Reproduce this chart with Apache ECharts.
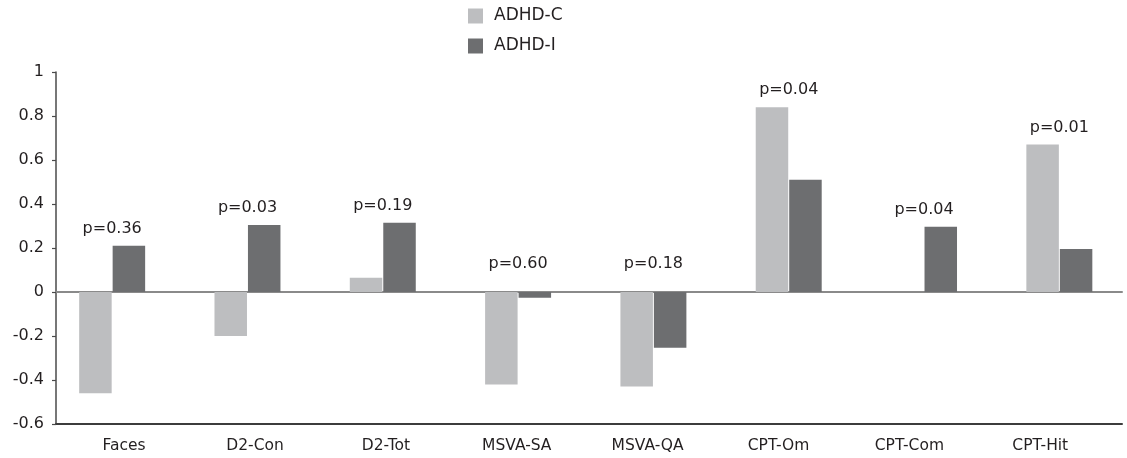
<!DOCTYPE html>
<html>
<head>
<meta charset="utf-8">
<title>ADHD-C vs ADHD-I</title>
<script src="https://cdn.jsdelivr.net/npm/echarts@6/dist/echarts.min.js"></script>
<style>
  html, body { margin: 0; padding: 0; background: #fff; }
  #chart { width: 1127px; height: 458px; }
</style>
</head>
<body>
<div id="chart"></div>
<script>
// Measures
const categories = ['Faces', 'D2-Con', 'D2-Tot', 'MSVA-SA', 'MSVA-QA', 'CPT-Om', 'CPT-Com', 'CPT-Hit'];
// Group scores
const adhdC = [-0.46, -0.20, 0.065, -0.42, -0.43, 0.84, 0, 0.67];
const adhdI = [0.21, 0.305, 0.315, -0.026, -0.253, 0.51, 0.297, 0.195];
// Group-difference p values
const pLabels = ['p=0.36', 'p=0.03', 'p=0.19', 'p=0.60', 'p=0.18', 'p=0.04', 'p=0.04', 'p=0.01'];
// Value axis
const yMin = -0.6;
const yMax = 1;
const yStep = 0.2;

const FONT = 'DejaVu Sans';
const INK = '#231F20';

// p labels sit just above the taller bar of each pair, never hugging the zero line
const pAnchor = categories.map((_, i) => Math.max(adhdC[i], adhdI[i], 0.05));

const chart = echarts.init(document.getElementById('chart'), null, { renderer: 'canvas' });

const hiddenCat = {
  type: 'category',
  data: categories,
  axisLine: { show: false },
  axisTick: { show: false },
  axisLabel: { show: false },
  splitLine: { show: false }
};
const hiddenVal = {
  type: 'value',
  min: yMin, max: yMax, interval: yStep,
  axisLine: { show: false },
  axisTick: { show: false },
  axisLabel: { show: false },
  splitLine: { show: false }
};

chart.setOption({
  animation: false,
  backgroundColor: '#ffffff',
  textStyle: { fontFamily: FONT, color: INK },
  legend: {
    orient: 'vertical',
    left: 468,
    top: 7,
    padding: 0,
    itemWidth: 15,
    itemHeight: 15,
    itemGap: 12,
    icon: 'rect',
    textStyle: { fontFamily: FONT, fontSize: 17, color: INK, lineHeight: 18, padding: [0, 0, 0, 6] },
    data: ['ADHD-C', 'ADHD-I']
  },
  grid: [
    // bars
    { left: 44.5, width: 1096, top: 72, height: 352, containLabel: false },
    // axis frame
    { left: 56, right: 5, top: 72, height: 352, containLabel: false },
    // category labels
    { left: 58.7, width: 1047, top: 72, height: 352, containLabel: false }
  ],
  xAxis: [
    Object.assign({}, hiddenCat, { gridIndex: 0 }),
    {
      type: 'category', gridIndex: 1, data: categories,
      axisLine: { onZero: false, lineStyle: { color: '#3c3c3c', width: 2 } },
      axisTick: { show: false },
      axisLabel: { show: false },
      splitLine: { show: false }
    },
    {
      type: 'category', gridIndex: 1, data: categories, position: 'bottom',
      axisLine: { onZero: true, lineStyle: { color: '#8a8a8a', width: 2 } },
      axisTick: { show: false },
      axisLabel: { show: false },
      splitLine: { show: false }
    },
    Object.assign({}, hiddenCat, {
      gridIndex: 2,
      axisLabel: { show: true, interval: 0, margin: 14, fontFamily: FONT, fontSize: 15.5, color: INK }
    })
  ],
  yAxis: [
    Object.assign({}, hiddenVal, { gridIndex: 0 }),
    {
      type: 'value', gridIndex: 1,
      min: yMin, max: yMax, interval: yStep,
      axisLine: { show: true, lineStyle: { color: '#4a4a4a', width: 1.5 } },
      axisTick: { show: true, length: 4, lineStyle: { color: '#4a4a4a', width: 1.2 } },
      axisLabel: {
        margin: 12, fontFamily: FONT, fontSize: 16, color: INK,
        formatter: v => String(Math.round(v * 10) / 10)
      },
      splitLine: { show: false }
    },
    Object.assign({}, hiddenVal, { gridIndex: 2 })
  ],
  series: [
    {
      name: 'ADHD-C', type: 'bar', xAxisIndex: 0, yAxisIndex: 0,
      data: adhdC, barWidth: 32.5, barGap: '3%',
      itemStyle: { color: '#BDBEC0' }
    },
    {
      name: 'ADHD-I', type: 'bar', xAxisIndex: 0, yAxisIndex: 0,
      data: adhdI, barWidth: 32.5, barGap: '3%',
      itemStyle: { color: '#6D6E70' }
    },
    {
      name: 'p', type: 'scatter', xAxisIndex: 0, yAxisIndex: 0,
      data: pAnchor, symbolSize: 0, silent: true,
      itemStyle: { opacity: 1 },
      label: {
        show: true, position: 'top', distance: 9,
        fontFamily: FONT, fontSize: 16, color: INK,
        formatter: p => pLabels[p.dataIndex]
      }
    }
  ]
});
</script>
</body>
</html>
